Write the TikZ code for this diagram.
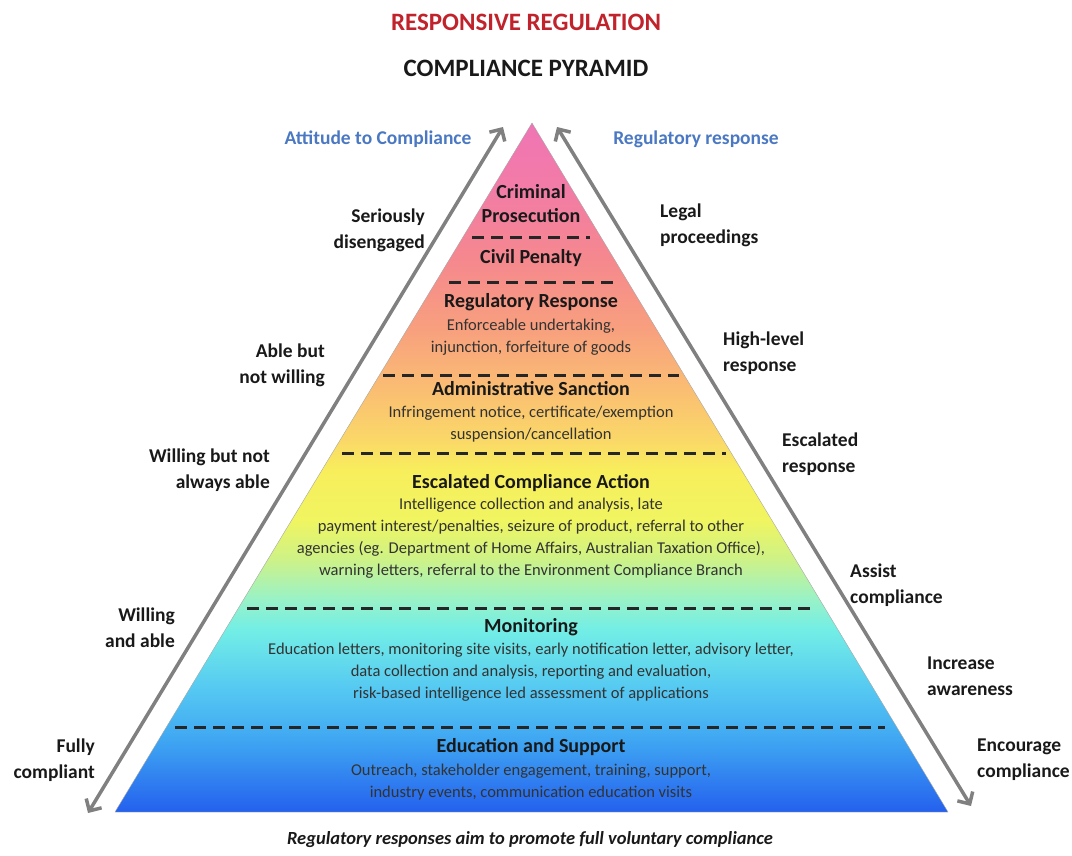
\documentclass[tikz,border=0pt]{standalone}
\usepackage{fontspec}
\setmainfont{Carlito}
\usetikzlibrary{arrows.meta}
\definecolor{titlered}{HTML}{C0232B}
\definecolor{labelblue}{HTML}{4A78C2}
\definecolor{arrowgray}{HTML}{808080}
\definecolor{pyrA}{HTML}{2460EE}
\definecolor{pyrB}{HTML}{3FA6F2}
\definecolor{pyrC}{HTML}{55C8F2}
\definecolor{pyrD}{HTML}{72EEE6}
\definecolor{pyrE}{HTML}{98F2C8}
\definecolor{pyrF}{HTML}{CDF288}
\definecolor{pyrG}{HTML}{F0F560}
\definecolor{pyrH}{HTML}{F8EE5C}
\definecolor{pyrI}{HTML}{FAD868}
\definecolor{pyrJ}{HTML}{FABE72}
\definecolor{pyrK}{HTML}{F8A07E}
\definecolor{pyrL}{HTML}{F5888E}
\definecolor{pyrM}{HTML}{F27CA6}
\definecolor{pyrN}{HTML}{F075B5}
\pgfdeclareverticalshading{pyramidshade}{100bp}{color(0bp)=(pyrA); color(25bp)=(pyrA); color(30.2bp)=(pyrB); color(33.9bp)=(pyrC); color(38.2bp)=(pyrD); color(40.4bp)=(pyrE); color(43.3bp)=(pyrF); color(46.2bp)=(pyrG); color(49.8bp)=(pyrH); color(52bp)=(pyrI); color(55.6bp)=(pyrJ); color(60bp)=(pyrK); color(65.1bp)=(pyrL); color(70.1bp)=(pyrM); color(75bp)=(pyrN); color(100bp)=(pyrN)}
\tikzset{
  level/.style={font=\fontsize{20}{24}\selectfont\bfseries, align=center, inner sep=0pt, text=black!90},
  detail/.style={font=\fontsize{16.5}{22}\selectfont, align=center, text=black!80, inner sep=0pt},
  side/.style={font=\fontsize{19.5}{26}\selectfont\bfseries, inner sep=0pt, text=black!90},
  divider/.style={line width=3pt, dash pattern=on 12pt off 7pt, black!85},
  slope/.style={arrowgray, line width=3.5pt, {Straight Barb[length=9pt,width=18pt]}-{Straight Barb[length=9pt,width=18pt]}}
}
\begin{document}
\begin{tikzpicture}[x=1pt,y=-1pt]
\useasboundingbox (0,0) rectangle (1072,855);
\node[font=\fontsize{25}{28}\selectfont\bfseries, text=titlered] (title) at (526,22) {RESPONSIVE REGULATION};
\node[font=\fontsize{25}{28}\selectfont\bfseries, text=black!90] (subtitle) at (526,68) {COMPLIANCE PYRAMID};
\node[side, text=labelblue] (attitude) at (378,139) {Attitude to Compliance};
\node[side, text=labelblue] (response) at (696,139) {Regulatory response};

\coordinate (apex) at (532,123);
\coordinate (baseleft) at (115,812);
\coordinate (baseright) at (948,812);
\path[shade, shading=pyramidshade, draw=gray!70, thin] (apex) -- (baseright) -- (baseleft) -- cycle;

\draw[divider] (472,237) -- (590,237);
\draw[divider] (449,282) -- (613,282);
\draw[divider] (383,375) -- (679,375);
\draw[divider] (342,453) -- (726,453);
\draw[divider] (247,608) -- (810,608);
\draw[divider] (175,727) -- (885,727);

\node[level] (criminal) at (531,204) {Criminal\\Prosecution};
\node[level] (civil) at (531,258) {Civil Penalty};
\node[level] (regulatory) at (531,302) {Regulatory Response};
\node[detail] (regulatoryd) at (531,337) {Enforceable undertaking,\\injunction, forfeiture of goods};
\node[level] (admin) at (531,389) {Administrative Sanction};
\node[detail] (admind) at (531,424.5) {Infringement notice, certificate/exemption\\suspension/cancellation};
\node[level] (escalated) at (531,483) {Escalated Compliance Action};
\node[detail] (escalatedd) at (531,538) {Intelligence collection and analysis, late\\payment interest/penalties, seizure of product, referral to other\\agencies (eg. Department of Home Affairs, Australian Taxation Office),\\warning letters, referral to the Environment Compliance Branch};
\node[level] (monitoring) at (531,627) {Monitoring};
\node[detail] (monitoringd) at (531,672) {Education letters, monitoring site visits, early notification letter, advisory letter,\\data collection and analysis, reporting and evaluation,\\risk-based intelligence led assessment of applications};
\node[level] (education) at (531,747) {Education and Support};
\node[detail] (educationd) at (531,782) {Outreach, stakeholder engagement, training, support,\\industry events, communication education visits};

\coordinate (attlow) at (88,813);
\coordinate (atthigh) at (503,127);
\draw[slope] (attlow) -- (atthigh);
\coordinate (reshigh) at (557,127);
\coordinate (reslow) at (971,806);
\draw[slope] (reshigh) -- (reslow);

\node[side, anchor=east, align=right] (serious) at (425,230) {Seriously\\disengaged};
\node[side, anchor=east, align=right] (ablenot) at (325,365) {Able but\\not willing};
\node[side, anchor=east, align=right] (willnot) at (270,470) {Willing but not\\always able};
\node[side, anchor=east, align=right] (willable) at (175,628) {Willing\\and able};
\node[side, anchor=east, align=right] (fully) at (95,760) {Fully\\compliant};

\node[side, anchor=west, align=left] (legal) at (660,225) {Legal\\proceedings};
\node[side, anchor=west, align=left] (highlevel) at (723,353) {High-level\\response};
\node[side, anchor=west, align=left] (escresp) at (782,454) {Escalated\\response};
\node[side, anchor=west, align=left] (assist) at (850,585) {Assist\\compliance};
\node[side, anchor=west, align=left] (increase) at (927,676) {Increase\\awareness};
\node[side, anchor=west, align=left] (encourage) at (977,760) {Encourage\\compliance};

\node[font=\fontsize{18.5}{20}\selectfont\bfseries\itshape, text=black!90] (caption) at (530,840) {Regulatory responses aim to promote full voluntary compliance};
\end{tikzpicture}
\end{document}
